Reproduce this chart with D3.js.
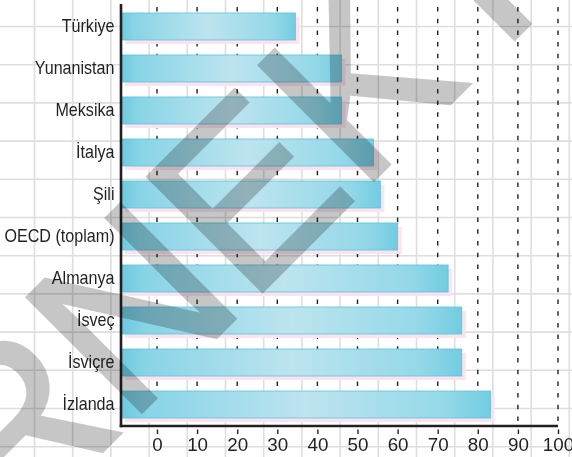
<!DOCTYPE html>
<html lang="tr">
<head>
<meta charset="UTF-8">
<title>OECD karşılaştırma</title>
<script src="https://d3js.org/d3.v7.min.js"></script>
<style>
  body { margin: 0; background: #fff; }
  svg { display: block; background: #fff; }
  text { font-family: Arial, "Liberation Sans", sans-serif; fill: #231f20; }
</style>
</head>
<body>
<svg id="chart"></svg>
<script>
// data
const countries = ["Türkiye", "Yunanistan", "Meksika", "İtalya", "Şili",
                   "OECD (toplam)", "Almanya", "İsveç", "İsviçre", "İzlanda"];
const values = [34.5, 46, 46, 54, 55.7, 60, 72.6, 76, 76, 83.2];
const tickValues = [0, 10, 20, 30, 40, 50, 60, 70, 80, 90, 100];
const watermark = "ÖRNEKTİR";

const width = 572, height = 457;
const axisX = 121, axisY = 426;
const gridStep = 38.2;

const svg = d3.select("#chart")
    .attr("width", width)
    .attr("height", height);

const x = d3.scaleLinear().domain([0, 100]).range([157, 558]);
const y = d3.scaleBand()
    .domain(countries)
    .range([5, axisY])
    .paddingInner(0.357)
    .paddingOuter(0.19);

// gradient for the bars
const grad = svg.append("defs").append("linearGradient")
    .attr("id", "barGrad")
    .attr("x1", 0).attr("x2", 1).attr("y1", 0).attr("y2", 0);
[[0, "#6dc9df"], [0.07, "#88d4e6"], [0.5, "#bde4ef"], [0.88, "#94d8e8"], [1, "#72cce1"]]
    .forEach(s => grad.append("stop").attr("offset", s[0]).attr("stop-color", s[1]));

// light squared paper in the back
const grid = svg.append("g").attr("stroke", "#dedede").attr("stroke-width", 1.6);
grid.selectAll(".gx").data(d3.range(34.5, width, gridStep)).join("line")
    .attr("x1", d => d).attr("x2", d => d).attr("y1", 0).attr("y2", height);
grid.selectAll(".gy").data(d3.range(26.5, height, gridStep)).join("line")
    .attr("x1", 0).attr("x2", width).attr("y1", d => d).attr("y2", d => d);

// dashed guide lines
svg.append("g").selectAll("line").data(tickValues).join("line")
    .attr("x1", d => x(d)).attr("x2", d => x(d))
    .attr("y1", 7).attr("y2", axisY)
    .attr("stroke", "#231f20").attr("stroke-width", 1.4)
    .attr("stroke-dasharray", "4.5 7.2");

// pink shadow, then bars
const rows = countries.map((c, i) => ({ name: c, value: values[i] }));

svg.append("g").selectAll("rect").data(rows).join("rect")
    .attr("x", axisX + 4)
    .attr("y", d => y(d.name) + 4)
    .attr("width", d => x(d.value) - axisX)
    .attr("height", y.bandwidth())
    .attr("fill", "#fce3ef");

svg.append("g").selectAll("rect").data(rows).join("rect")
    .attr("x", axisX)
    .attr("y", d => y(d.name))
    .attr("width", d => x(d.value) - axisX)
    .attr("height", y.bandwidth())
    .attr("fill", "url(#barGrad)")
    .attr("stroke", "#5cc3da")
    .attr("stroke-width", 0.8);

// category labels, a bit condensed like the original
svg.append("g").selectAll("text").data(countries).join("text")
    .attr("x", 114.5)
    .attr("y", d => y(d) + y.bandwidth() / 2 + 5.5)
    .attr("text-anchor", "end")
    .style("font-size", "18.5px")
    .text(d => d)
    .each(function () {
        const w = this.getComputedTextLength();
        d3.select(this).attr("textLength", w * 0.87).attr("lengthAdjust", "spacingAndGlyphs");
    });

// x axis
const xAxis = svg.append("g")
    .attr("transform", `translate(0,${axisY})`)
    .call(d3.axisBottom(x).tickValues(tickValues).tickSize(0).tickPadding(12));
xAxis.select(".domain").remove();
xAxis.selectAll(".tick text")
    .style("font-size", "18.8px")
    .attr("fill", "#231f20");
xAxis.selectAll(".tick").append("line")
    .attr("y1", 3.5).attr("y2", 8)
    .attr("stroke", "#231f20").attr("stroke-width", 1.4);

// axis lines
svg.append("line")
    .attr("x1", axisX).attr("x2", axisX).attr("y1", 4).attr("y2", axisY + 1.3)
    .attr("stroke", "#231f20").attr("stroke-width", 2.6);
svg.append("line")
    .attr("x1", axisX - 1.3).attr("x2", x(100)).attr("y1", axisY).attr("y2", axisY)
    .attr("stroke", "#231f20").attr("stroke-width", 2.6);

// big grey watermark across the page
svg.append("text")
    .attr("transform", "translate(-122,676) rotate(-45)")
    .style("font-size", "236px")
    .style("fill", "#c6c6c6")
    .style("stroke", "#c6c6c6")
    .style("stroke-width", 3)
    .style("mix-blend-mode", "multiply")
    .text(watermark);
</script>
</body>
</html>
